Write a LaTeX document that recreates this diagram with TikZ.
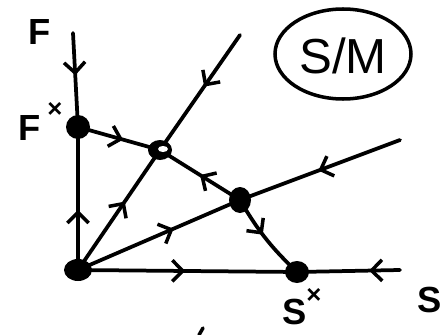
\documentclass[tikz,border=0pt]{standalone}
\usepackage{fontspec}
\setmainfont{Liberation Sans}
\usetikzlibrary{arrows.meta,decorations.markings,shapes.geometric}
\tikzset{
  ln/.style={line width=3.2pt, line cap=round},
  midarrow/.style={postaction={decorate,decoration={markings,
     mark=at position #1 with {\arrow[line width=3pt]{Straight Barb[length=9pt,width=18pt]}}}}},
  lbl/.style={font=\fontsize{31}{31}\selectfont\bfseries, inner sep=0pt},
  starlbl/.style={font=\fontsize{22}{22}\selectfont\bfseries, inner sep=0pt}
}
\begin{document}
\begin{tikzpicture}[x=0.03cm,y=-0.03cm]
\useasboundingbox (0,0) rectangle (441,335);
% free ends
\coordinate (Ftop) at (73,33);
\coordinate (Atop) at (240,35);
\coordinate (Bend) at (400,140);
\coordinate (Sright) at (400,270);
% equilibrium points
\coordinate (Oc) at (78,270);
\coordinate (Fc) at (78,127);
\coordinate (Ac) at (160,150);
\coordinate (Bc) at (240,200);
\coordinate (Sc) at (297,272);
% connectors
\draw[ln, midarrow=0.45] (Ftop) -- (Fc);
\draw[ln, midarrow=0.42] (Oc) -- (Fc);
\draw[ln, midarrow=0.55] (Fc) -- (Ac);
\draw[ln, midarrow=0.45] (Atop) -- (Ac);
\draw[ln, midarrow=0.57] (Oc) -- (Ac);
\draw[ln, midarrow=0.5] (Bc) -- (Ac);
\draw[ln, midarrow=0.59] (Oc) -- (Bc);
\draw[ln, midarrow=0.51] (Bend) -- (Bc);
\draw[ln, midarrow=0.45] (Bc) to[bend right=8] (Sc);
\draw[ln, midarrow=0.49] (Oc) -- (Sc);
\draw[ln, midarrow=0.3] (Sright) -- (Sc);
% dots
\fill (Oc) ellipse [x radius=14, y radius=11];
\fill (Fc) ellipse [x radius=12, y radius=12];
\fill (Ac) ellipse [x radius=12, y radius=10];
\fill[white] (163,149) ellipse [x radius=5, y radius=3];
\fill (Bc) ellipse [x radius=11, y radius=13];
\fill (Sc) ellipse [x radius=12, y radius=11];
% labels
\node[lbl] (lF) at (40,32) {F};
\node[lbl] (lFs) at (30,128) {F};
\node[starlbl] (lFx) at (55,110) {×};
\node[lbl] (lSs) at (295,312) {S};
\node[starlbl] (lSx) at (314,296) {×};
\node[lbl] (lS) at (430,300) {S};
% S/M ellipse
\draw[line width=3pt] (343,54) ellipse [x radius=68, y radius=45];
\node[font=\fontsize{42}{42}\selectfont, inner sep=0pt] (SM) at (343,56) {S/M};
% cut-off fragment at bottom
\draw[line width=3pt, line cap=round] (199,335) -- (203,328);
\end{tikzpicture}
\end{document}
